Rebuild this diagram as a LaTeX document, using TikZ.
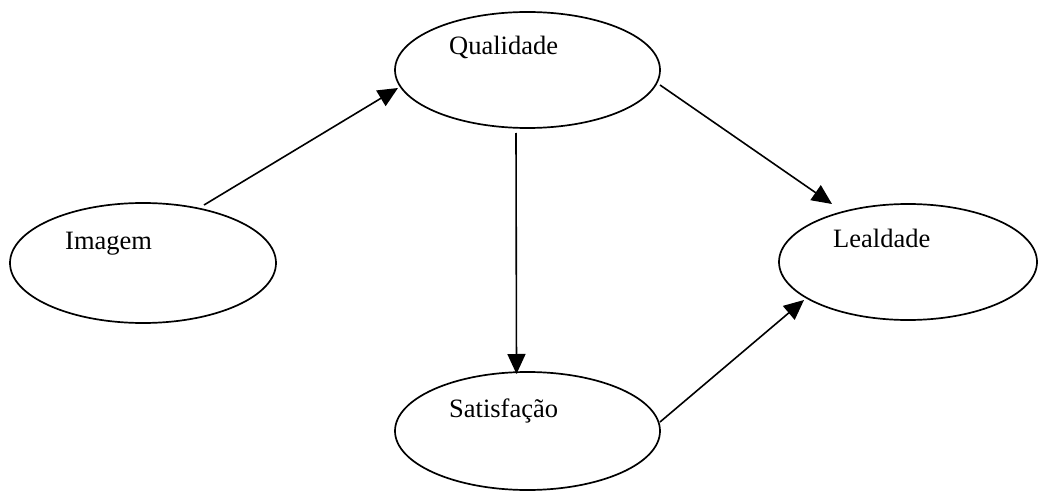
\documentclass[tikz,border=0pt]{standalone}
\usepackage{fontspec}
\setmainfont{Liberation Serif}
\usetikzlibrary{arrows.meta,calc,shapes.geometric}
\begin{document}
\begin{tikzpicture}[x=1pt,y=-1pt,
  oval/.style={draw,ellipse,line width=1.7pt,inner sep=0pt},
  lbl/.style={anchor=base west,inner sep=0pt,font=\fontsize{26.5}{30}\selectfont},
  arr/.style={line width=1.6pt,-{Triangle[length=20pt,width=18pt]}}]
\useasboundingbox (0,0) rectangle (1039,492);
\node[oval,minimum width=266pt,minimum height=120pt] (img) at (143,263) {};
\node[oval,minimum width=265pt,minimum height=116pt] (qual) at (527.5,70) {};
\node[oval,minimum width=258pt,minimum height=116pt] (leal) at (908,262) {};
\node[oval,minimum width=265pt,minimum height=118pt] (sat) at (527.5,431) {};
\node[lbl] (imgT) at (65,249) {Imagem};
\node[lbl] (qualT) at (449,55) {Qualidade};
\node[lbl] (lealT) at (833,247) {Lealdade};
\node[lbl] (satT) at (449,417) {Satisfação};
\draw[arr] ($(img.center)+(61,-58)$) -- ($(qual.center)+(-129.5,18)$);
\draw[arr] ($(qual.center)+(-11.5,63)$) -- ($(sat.center)+(-11,-57)$);
\draw[arr] ($(qual.center)+(132.5,15)$) -- ($(leal.center)+(-76,-58)$);
\draw[arr] ($(sat.center)+(132.5,-9)$) -- ($(leal.center)+(-104,38)$);
\end{tikzpicture}
\end{document}
